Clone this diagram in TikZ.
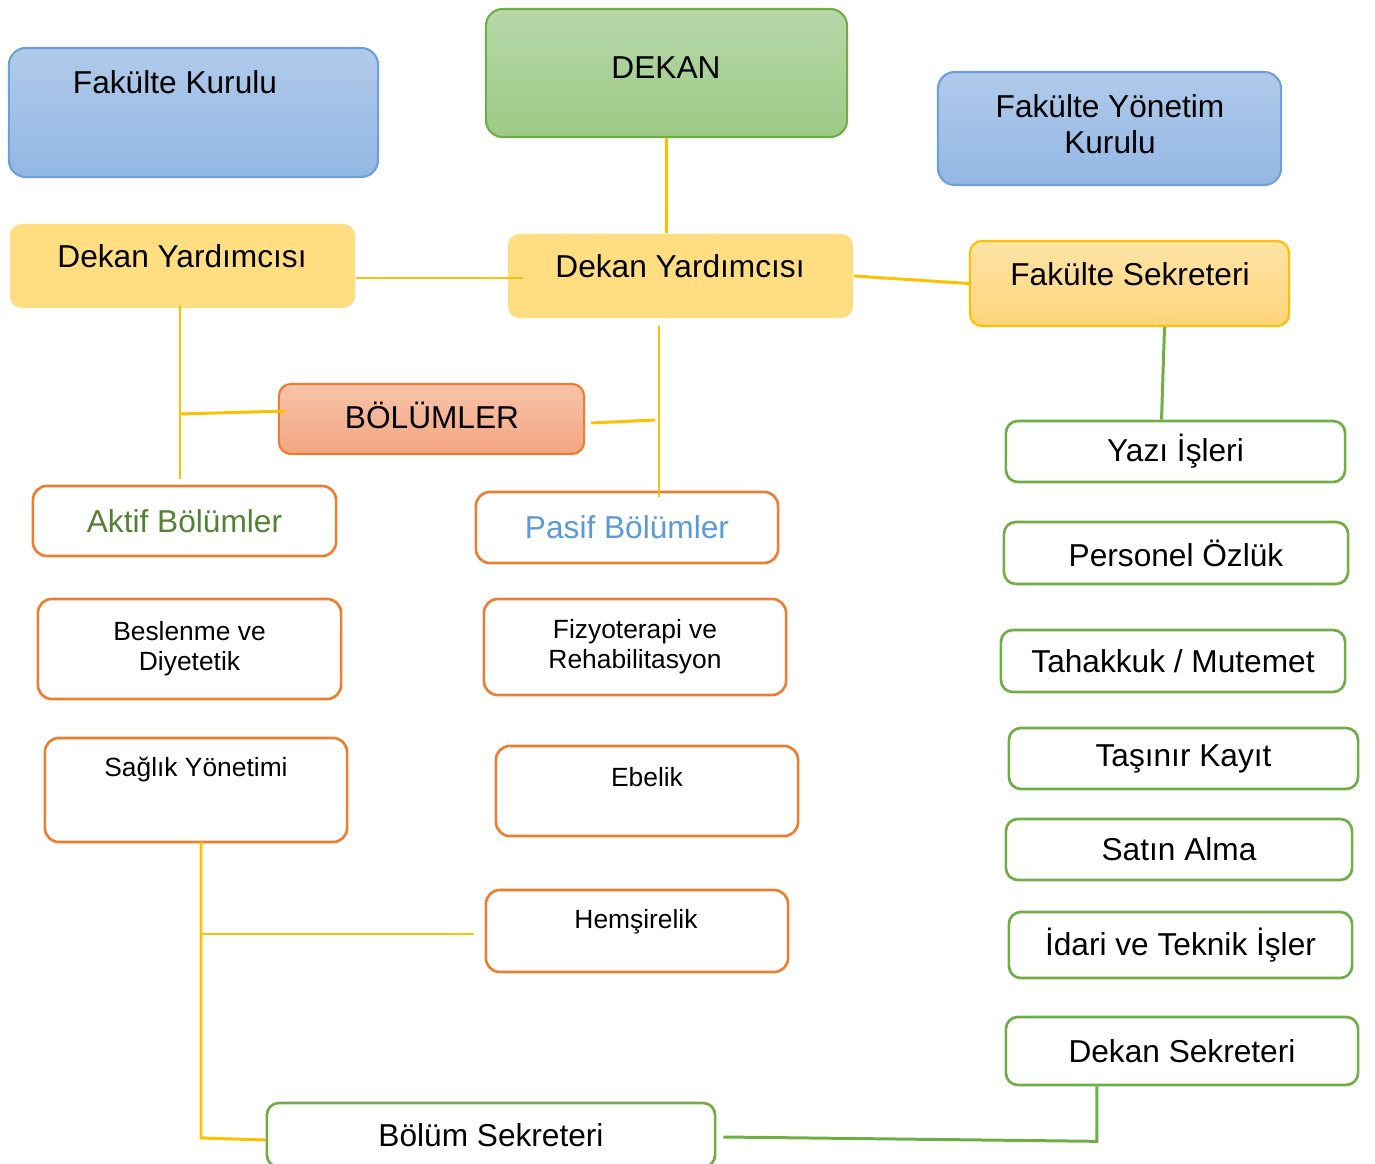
\documentclass[tikz,border=0pt]{standalone}
\usepackage{fontspec}
\setmainfont{Liberation Sans}
\usetikzlibrary{positioning,calc}
\definecolor{bluetop}{HTML}{B0CAEA}
\definecolor{bluebot}{HTML}{92B7E3}
\definecolor{bluedge}{HTML}{6E9FD6}
\definecolor{greentop}{HTML}{B7D7A9}
\definecolor{greenbot}{HTML}{9CCA86}
\definecolor{greenedge}{HTML}{70AD47}
\definecolor{yelfill}{HTML}{FFDE82}
\definecolor{sektop}{HTML}{FFE4A6}
\definecolor{sekbot}{HTML}{FFD47A}
\definecolor{yeledge}{HTML}{FFC000}
\definecolor{saltop}{HTML}{F7C4AA}
\definecolor{salbot}{HTML}{F4A581}
\definecolor{orangeedge}{HTML}{ED7D31}
\definecolor{aktiftext}{HTML}{548235}
\definecolor{pasiftext}{HTML}{5B9BD5}
\tikzset{
	bigtxt/.style={font=\fontsize{9}{10.3}\selectfont, align=center},
	smalltxt/.style={font=\fontsize{7.5}{8.6}\selectfont, align=center},
	box/.style={rectangle, rounded corners=0.1cm, inner sep=0pt, line width=0.6pt},
	bluebox/.style={box, rounded corners=0.17cm, draw=bluedge, top color=bluetop, bottom color=bluebot},
	greenbox/.style={box, rounded corners=0.17cm, draw=greenedge, top color=greentop, bottom color=greenbot},
	yelbox/.style={box, rounded corners=0.12cm, fill=yelfill},
	sekbox/.style={box, rounded corners=0.12cm, draw=yeledge, top color=sektop, bottom color=sekbot},
	salbox/.style={box, rounded corners=0.12cm, draw=orangeedge, top color=saltop, bottom color=salbot},
	orbox/.style={box, rounded corners=0.14cm, draw=orangeedge, fill=white, line width=0.75pt},
	grbox/.style={box, rounded corners=0.12cm, draw=greenedge, fill=white, line width=0.75pt},
	yline/.style={draw=yeledge, line width=0.85pt},
	gline/.style={draw=greenedge, line width=0.85pt}
}
\begin{document}
\begin{tikzpicture}[x=0.01cm,y=-0.01cm]
	%\draw (0,0) grid (1375,1164);
	\useasboundingbox (0,0) rectangle (1375,1164);
	% top row
	\node[bluebox, minimum width=3.69cm, minimum height=1.29cm] (kurul) at (193.5,112.5) {};
	\node[bigtxt] (kurult) at (175,82) {Fakülte Kurulu};
	\node[greenbox, minimum width=3.61cm, minimum height=1.28cm] (dekan) at (666.5,73) {};
	\node[bigtxt] (dekant) at (666,68) {DEKAN};
	\node[bluebox, minimum width=3.43cm, minimum height=1.13cm] (fyk) at (1109.5,128.5) {};
	\node[bigtxt] (fykt) at (1110,124) {Fakülte Yönetim\\Kurulu};
	% second row
	\node[yelbox, minimum width=3.45cm, minimum height=0.84cm] (dyl) at (182.5,266) {};
	\node[bigtxt] (dylt) at (182,256) {Dekan Yardımcısı};
	\node[yelbox, minimum width=3.45cm, minimum height=0.84cm] (dyc) at (680.5,276) {};
	\node[bigtxt] (dyct) at (680,266) {Dekan Yardımcısı};
	\node[sekbox, minimum width=3.19cm, minimum height=0.85cm] (fsek) at (1129.5,283.5) {};
	\node[bigtxt] (fsekt) at (1130,274) {Fakülte Sekreteri};
	% bolumler
	\node[salbox, minimum width=3.05cm, minimum height=0.70cm] (bolum) at (431.5,419) {};
	\node[bigtxt] (bolumt) at (432,415) {BÖLÜMLER};
	\node[orbox, minimum width=3.03cm, minimum height=0.70cm, bigtxt, text=aktiftext] (aktif) at (184.5,521) {Aktif Bölümler};
	\node[orbox, minimum width=3.02cm, minimum height=0.71cm, bigtxt, text=pasiftext] (pasif) at (627,527.5) {Pasif Bölümler};
	\node[orbox, minimum width=3.03cm, minimum height=1.00cm, smalltxt] (beslenme) at (189.5,649) {Beslenme ve\\Diyetetik};
	\node[orbox, minimum width=3.02cm, minimum height=0.96cm, smalltxt] (fizyo) at (635,647) {Fizyoterapi ve\\Rehabilitasyon};
	\node[orbox, minimum width=3.02cm, minimum height=1.04cm] (saglik) at (196,790) {};
	\node[smalltxt] (saglikt) at (196,770) {Sağlık Yönetimi};
	\node[orbox, minimum width=3.02cm, minimum height=0.90cm] (ebelik) at (647,791) {};
	\node[smalltxt] (ebelikt) at (647,777) {Ebelik};
	\node[orbox, minimum width=3.02cm, minimum height=0.82cm] (hems) at (637,931) {};
	\node[smalltxt] (hemst) at (636,922) {Hemşirelik};
	\node[grbox, minimum width=4.48cm, minimum height=0.64cm, bigtxt] (bsek) at (491,1135) {Bölüm Sekreteri};
	% sekreterlik
	\node[grbox, minimum width=3.39cm, minimum height=0.61cm, bigtxt] (yazi) at (1175.5,451.5) {Yazı İşleri};
	\node[grbox, minimum width=3.44cm, minimum height=0.62cm, bigtxt] (personel) at (1176,553) {Personel Özlük};
	\node[grbox, minimum width=3.44cm, minimum height=0.62cm, bigtxt] (tahakkuk) at (1173,661) {Tahakkuk / Mutemet};
	\node[grbox, minimum width=3.49cm, minimum height=0.61cm, bigtxt] (tasinir) at (1183.5,758.5) {Taşınır Kayıt};
	\node[grbox, minimum width=3.46cm, minimum height=0.61cm, bigtxt] (satin) at (1179,849.5) {Satın Alma};
	\node[grbox, minimum width=3.43cm, minimum height=0.66cm, bigtxt] (idari) at (1180.5,945) {İdari ve Teknik İşler};
	\node[grbox, minimum width=3.52cm, minimum height=0.68cm, bigtxt] (dsek) at (1182,1051) {Dekan Sekreteri};
	% lines
	\coordinate (lv) at (180,306);
	\coordinate (cv) at (659,326);
	\coordinate (sv) at (201,842);
	\draw[yline] (dekan.south) -- (dekan.south |- dyc.north);
	\draw[yline] ([yshift=-0.02cm]dyl.east |- dyc.west) -- ([xshift=0.16cm,yshift=-0.02cm]dyc.west);
	\draw[yline] (dyc.east) -- (fsek.west);
	\draw[yline] (lv) -- ([yshift=0.06cm]lv |- aktif.north);
	\draw[yline] ([yshift=0.05cm]lv |- bolum.west) -- ([xshift=0.08cm,yshift=0.08cm]bolum.west);
	\draw[yline] (cv) -- ([yshift=-0.06cm]cv |- pasif.north);
	\draw[yline] ([xshift=0.06cm,yshift=-0.04cm]bolum.east) -- ([xshift=-0.04cm,yshift=-0.01cm]bolum.east -| cv);
	\draw[yline] (sv) -- ([yshift=-0.03cm]sv |- bsek.west) -- ([yshift=-0.05cm]bsek.west);
	\draw[yline] ([yshift=-0.03cm]sv |- hems.west) -- ([xshift=-0.11cm,yshift=-0.03cm]hems.west);
	\draw[gline] ([xshift=0.35cm]fsek.south) -- ([xshift=0.32cm]fsek.south |- yazi.north);
	\draw[gline] ([xshift=-0.85cm]dsek.south) -- ++(0,55) -- ([xshift=0.07cm,yshift=-0.02cm]bsek.east);
\end{tikzpicture}
\end{document}
